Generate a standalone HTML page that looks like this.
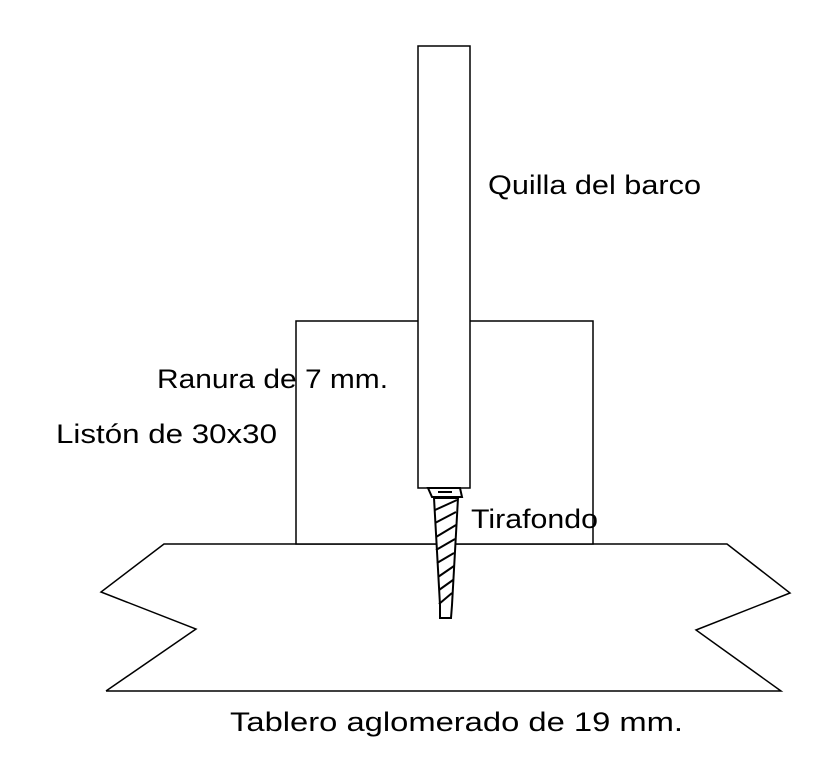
<!DOCTYPE html>
<html><head><style>body{margin:0;background:#fff}svg{display:block}text{font-family:"Liberation Sans",sans-serif;font-size:27px;fill:#000}</style></head>
<body>
<svg width="840" height="768" viewBox="0 0 840 768">
<g fill="none" stroke="#000" stroke-width="1.5">
<polyline points="106,691 196,629 101,592 164,544 727,544 790,593 696,630 781,691 106,691"/>
<rect x="296" y="321" width="297" height="223" fill="#fff"/>
<rect x="418" y="46" width="52" height="442" fill="#fff"/>
<polygon points="428,488 460,488 462,497 432,497" fill="#fff" stroke-width="2"/>
<line x1="438" y1="492" x2="452" y2="492" stroke-width="2"/>
<polygon points="434,498 458,498 452,605 451,618 440,618 440,605" fill="#fff" stroke-width="2"/>
<g stroke-width="2">
<line x1="435" y1="510" x2="457" y2="500"/>
<line x1="435" y1="523" x2="456" y2="512"/>
<line x1="436" y1="537" x2="456" y2="525"/>
<line x1="436" y1="550" x2="455" y2="539"/>
<line x1="437" y1="563" x2="454" y2="553"/>
<line x1="438" y1="577" x2="454" y2="566"/>
<line x1="439" y1="590" x2="453" y2="580"/>
<line x1="439" y1="604" x2="452" y2="593"/>
</g>
</g>
<text x="488" y="194" textLength="213" lengthAdjust="spacingAndGlyphs">Quilla del barco</text>
<text x="157" y="388" textLength="231" lengthAdjust="spacingAndGlyphs">Ranura de 7 mm.</text>
<text x="56" y="443" textLength="221" lengthAdjust="spacingAndGlyphs">Listón de 30x30</text>
<text x="471" y="528" textLength="127" lengthAdjust="spacingAndGlyphs">Tirafondo</text>
<text x="230" y="731" textLength="453" lengthAdjust="spacingAndGlyphs">Tablero aglomerado de 19 mm.</text>
</svg>
</body></html>
